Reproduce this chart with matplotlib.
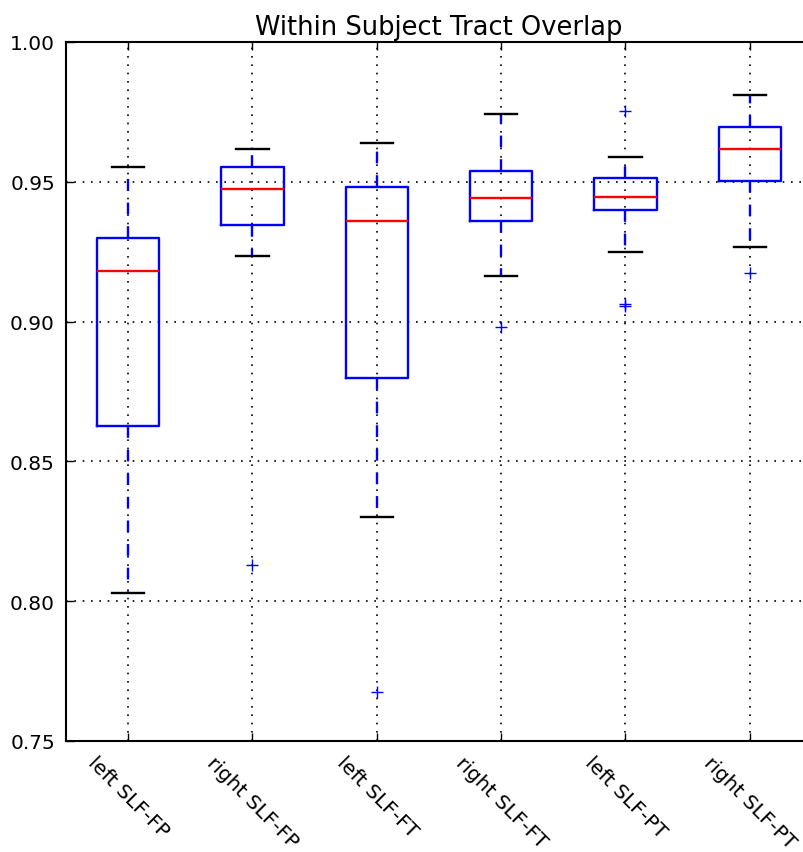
import matplotlib
matplotlib.use("Agg")
import matplotlib.pyplot as plt

labels = ["left SLF-FP", "right SLF-FP", "left SLF-FT", "right SLF-FT", "left SLF-PT", "right SLF-PT"]
whislo = [0.8029, 0.9235, 0.8301, 0.9163, 0.9249, 0.9267]
q1 = [0.8627, 0.9346, 0.8798, 0.9360, 0.9399, 0.9503]
med = [0.9181, 0.9474, 0.9360, 0.9442, 0.9446, 0.9617]
q3 = [0.9299, 0.9553, 0.9481, 0.9539, 0.9514, 0.9696]
whishi = [0.9553, 0.9617, 0.9639, 0.9742, 0.9589, 0.9810]
fliers = [[], [0.8129], [0.7675], [0.8981], [0.9753, 0.9063, 0.9056], [0.9174]]

stats = []
for i in range(len(labels)):
    stats.append(dict(label=labels[i], whislo=whislo[i], q1=q1[i], med=med[i],
                      q3=q3[i], whishi=whishi[i], fliers=fliers[i]))

fig = plt.figure(figsize=(8.04, 8.53), dpi=100)
ax = fig.add_axes([66/804, 111/853, 746/804, 699/853])

lw = 1.7
ax.bxp(stats, widths=0.5,
       boxprops=dict(color="blue", linewidth=lw),
       medianprops=dict(color="red", linewidth=lw),
       whiskerprops=dict(color="blue", linewidth=lw, linestyle="--", dashes=(5, 5)),
       capprops=dict(color="black", linewidth=lw),
       flierprops=dict(marker="+", markeredgecolor="blue", markerfacecolor="none",
                       markersize=9, markeredgewidth=1.0, linestyle="none"),
       capwidths=0.26)

ax.set_xlim(0.5, 6.5)
ax.set_ylim(0.75, 1.00)
ax.set_yticks([0.75, 0.80, 0.85, 0.90, 0.95, 1.00])
ax.set_yticklabels(["0.75", "0.80", "0.85", "0.90", "0.95", "1.00"])
ax.set_xticks(range(1, 7))
ax.set_xticklabels(labels, rotation=-45, ha="center")
ax.grid(True, color="black", linestyle=(0, (1, 4)), linewidth=1.2)
ax.set_axisbelow(True)
ax.tick_params(direction="in", length=6, width=1, top=True, right=True,
               labelsize=14.5, pad=8, colors="black")
for s in ax.spines.values():
    s.set_linewidth(1.5)
ax.set_title("Within Subject Tract Overlap", fontsize=18.5, pad=6)

fig.savefig("out.png", dpi=100)
